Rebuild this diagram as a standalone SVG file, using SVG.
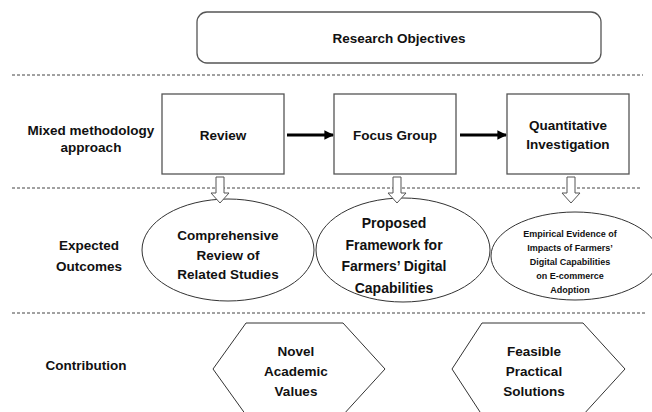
<svg xmlns="http://www.w3.org/2000/svg" width="652" height="412" viewBox="0 0 652 412">
  <defs>
    <style>
      text { font-family: "Liberation Sans", Arial, sans-serif; font-weight: bold; fill: #111; text-anchor: middle; }
      .lbl { font-size: 13.5px; }
      .small { font-size: 9px; }
      .mid { font-size: 14px; }
      .sep { stroke: #444; stroke-width: 1; stroke-dasharray: 3 2; fill: none; }
      .box { fill: #fff; stroke: #555; stroke-width: 1.3; }
      .shape { fill: #fff; stroke: #333; stroke-width: 1; }
      .flow { stroke: #000; stroke-width: 3; fill: none; }
      .hollow { fill: #fff; stroke: #555; stroke-width: 1; }
    </style>
    <marker id="head" viewBox="0 0 10 10" refX="9" refY="5" markerWidth="3.2" markerHeight="3.2" orient="auto" markerUnits="strokeWidth">
      <path d="M0,0 L10,5 L0,10 Z" fill="#000"/>
    </marker>
  </defs>

  <rect width="652" height="412" fill="#fff"/>

  <!-- row separators -->
  <g id="separators">
    <line class="sep" x1="12" y1="75" x2="643" y2="75"/>
    <line class="sep" x1="12" y1="188" x2="640" y2="188"/>
    <line class="sep" x1="12" y1="313" x2="645" y2="313"/>
  </g>

  <!-- row labels -->
  <g id="row-labels">
    <text class="lbl" x="91" y="135">Mixed methodology</text>
    <text class="lbl" x="91" y="152">approach</text>
    <text class="lbl" x="89" y="250">Expected</text>
    <text class="lbl" x="89" y="271">Outcomes</text>
    <text class="lbl" x="86" y="370">Contribution</text>
  </g>

  <g id="objectives">
    <rect class="box" x="197" y="12" width="404" height="51" rx="10"/>
    <text class="lbl" x="399" y="43">Research Objectives</text>
  </g>

  <g id="review">
    <rect class="box" x="162" y="94" width="122" height="80"/>
    <text class="lbl" x="223" y="140">Review</text>
  </g>

  <g id="focus-group">
    <rect class="box" x="334" y="94" width="122" height="80"/>
    <text class="lbl" x="395" y="140">Focus Group</text>
  </g>

  <g id="quantitative">
    <rect class="box" x="507" y="94" width="122" height="80"/>
    <text class="lbl" x="568" y="130">Quantitative</text>
    <text class="lbl" x="568" y="149">Investigation</text>
  </g>

  <g id="outcome-review">
    <ellipse class="shape" cx="228" cy="250" rx="86" ry="51"/>
    <text class="lbl" x="228" y="240">Comprehensive</text>
    <text class="lbl" x="228" y="260">Review of</text>
    <text class="lbl" x="228" y="279">Related Studies</text>
  </g>

  <g id="outcome-framework">
    <ellipse class="shape" cx="403" cy="250" rx="87" ry="52"/>
    <text class="mid" x="394" y="228">Proposed</text>
    <text class="mid" x="394" y="250">Framework for</text>
    <text class="mid" x="394" y="271">Farmers’ Digital</text>
    <text class="mid" x="394" y="293">Capabilities</text>
  </g>

  <g id="outcome-evidence">
    <ellipse class="shape" cx="575" cy="256" rx="84" ry="44"/>
    <text class="small" x="570" y="237">Empirical Evidence of</text>
    <text class="small" x="570" y="251">Impacts of Farmers’</text>
    <text class="small" x="570" y="265">Digital Capabilities</text>
    <text class="small" x="570" y="279">on E-commerce</text>
    <text class="small" x="570" y="293">Adoption</text>
  </g>

  <g id="contribution-academic">
    <polygon class="shape" points="213,369 246,323 343,323 385,369 343,415 246,415"/>
    <text class="lbl" x="296" y="356">Novel</text>
    <text class="lbl" x="296" y="376">Academic</text>
    <text class="lbl" x="296" y="396">Values</text>
  </g>

  <g id="contribution-practical">
    <polygon class="shape" points="452,369 482,323 583,323 625,369 583,415 482,415"/>
    <text class="lbl" x="534" y="356">Feasible</text>
    <text class="lbl" x="534" y="376">Practical</text>
    <text class="lbl" x="534" y="396">Solutions</text>
  </g>

  <!-- connectors -->
  <g id="connectors">
    <line class="flow" x1="287" y1="135" x2="333" y2="135" marker-end="url(#head)"/>
    <line class="flow" x1="460" y1="135" x2="506" y2="135" marker-end="url(#head)"/>
    <path class="hollow" d="M216,177 H224 V193 H229 L220,203 L211,193 H216 Z"/>
    <path class="hollow" d="M393,177 H401 V193 H406 L397,203 L388,193 H393 Z"/>
    <path class="hollow" d="M567,177 H575 V193 H580 L571,203 L562,193 H567 Z"/>
  </g>
</svg>
